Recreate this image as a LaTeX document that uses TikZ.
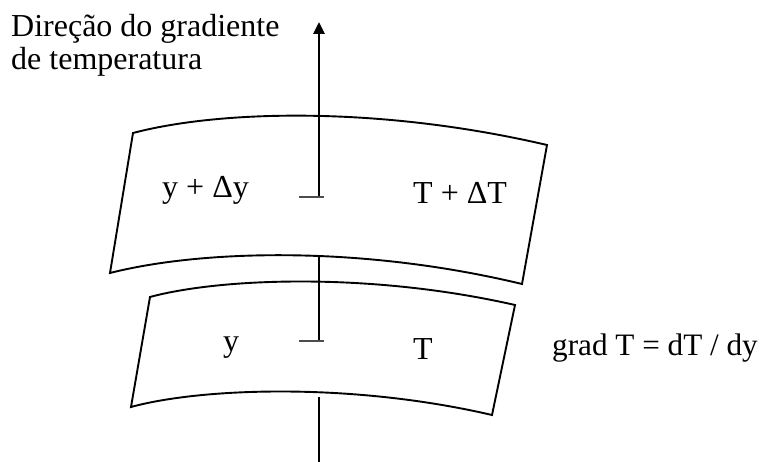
\documentclass[tikz,border=0pt]{standalone}
\usepackage{fontspec}
\setmainfont{Liberation Serif}
\usetikzlibrary{arrows.meta}
\begin{document}
\begin{tikzpicture}[x=1pt,y=-1pt,
  band/.style={line width=1.9pt,line join=miter},
  axisline/.style={line width=1.7pt},
  tickmark/.style={line width=1.3pt,black!70},
  lbl/.style={inner sep=0pt,anchor=base west,font=\fontsize{32}{34}\selectfont}]
\useasboundingbox (0,0) rectangle (760,462);
% corners of upper band
\coordinate (u1) at (133,133);
\coordinate (u2) at (547,145);
\coordinate (u3) at (522,284);
\coordinate (u4) at (110,273);
% corners of lower band
\coordinate (l1) at (150,297);
\coordinate (l2) at (515,305);
\coordinate (l3) at (492,415);
\coordinate (l4) at (131,407);
% upper band
\draw[band] (u1) .. controls (220,110) and (380,106) .. (u2) -- (u3)
  .. controls (360,245) and (200,250) .. (u4) -- cycle;
% lower band
\draw[band] (l1) .. controls (220,278) and (370,272) .. (l2) -- (l3)
  .. controls (350,382) and (200,388) .. (l4) -- cycle;
% axis
\coordinate (tipA) at (319,22);
\coordinate (baseA) at (319,197);
\coordinate (midS) at (319,256);
\coordinate (midE) at (319,341);
\coordinate (lowS) at (319,397);
\coordinate (lowE) at (319,462);
\draw[line width=2.8pt,-{Triangle[length=12pt,width=11pt]}] (baseA) -- (tipA);
\draw[axisline] (midS) -- (midE);
\draw[axisline] (lowS) -- (lowE);
\coordinate (t1a) at (299,197);
\coordinate (t1b) at (324,197);
\coordinate (t2a) at (299,341);
\coordinate (t2b) at (324,341);
\draw[tickmark] (t1a) -- (t1b);
\draw[tickmark] (t2a) -- (t2b);
% labels
\node[lbl] (head1) at (11,37) {Direção do gradiente};
\node[lbl] (head2) at (11,70) {de temperatura};
\node[lbl] (yup) at (162,198) {y + Δy};
\node[lbl] (tup) at (413,204) {T + ΔT};
\node[lbl] (ylow) at (223,351) {y};
\node[lbl] (tlow) at (413,359) {T};
\node[lbl,font=\fontsize{31.2}{33}\selectfont] (grad) at (552,355) {grad T = dT / dy};
\end{tikzpicture}
\end{document}
